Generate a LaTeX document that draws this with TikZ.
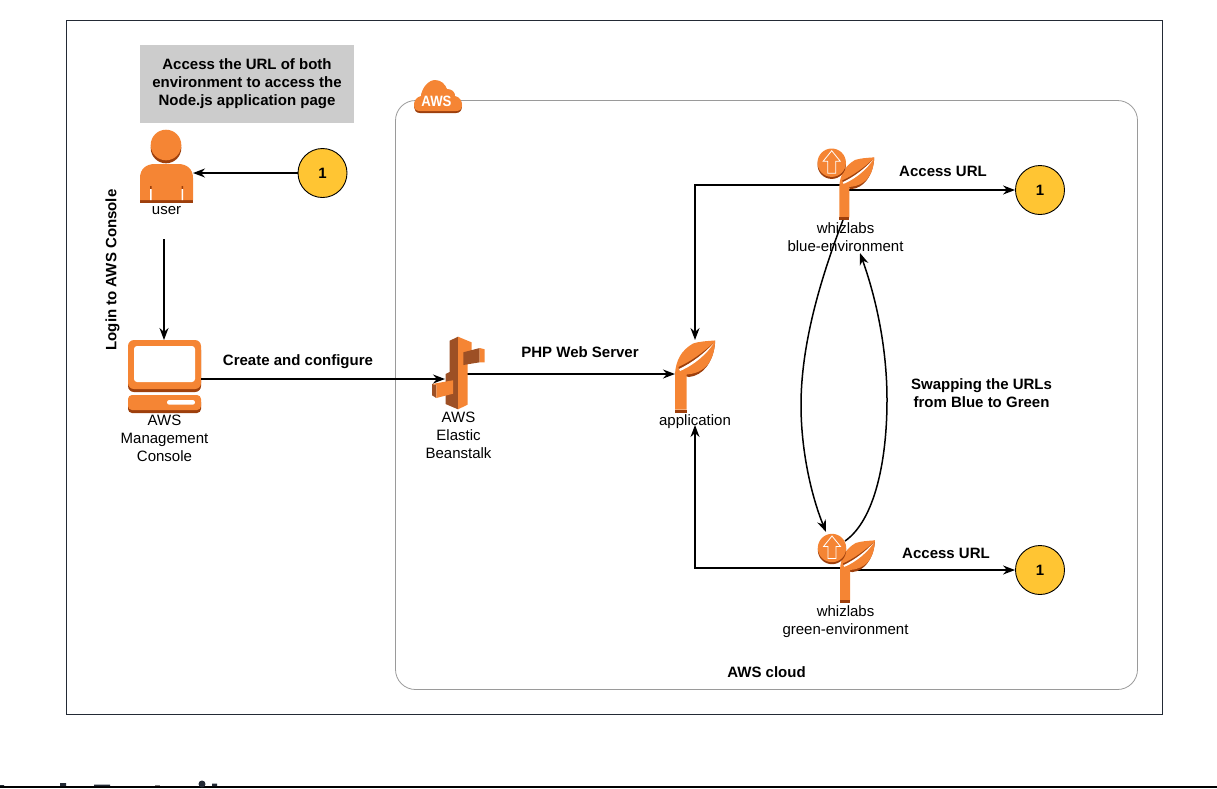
\documentclass[tikz,border=0pt]{standalone}
\usepackage{fontspec}
\setmainfont{Liberation Sans}
\usepackage{xcolor}
\usetikzlibrary{arrows.meta}

\definecolor{awsorange}{HTML}{F58534}
\definecolor{awsdark}{HTML}{9D3F0C}
\definecolor{awsmid}{HTML}{9D5025}
\definecolor{framecol}{HTML}{232A35}
\definecolor{groupcol}{HTML}{9A9A9A}
\definecolor{notecol}{HTML}{CCCCCC}
\definecolor{numcol}{HTML}{FFC533}

\tikzset{
  txt/.style={font=\fontsize{15}{18}\selectfont, align=center, inner sep=0pt},
  boldtxt/.style={txt, font=\fontsize{15}{18}\selectfont\bfseries},
  numnode/.style={draw=black, fill=numcol, circle, line width=0.9pt, minimum size=49pt, inner sep=0pt, font=\fontsize{15}{18}\selectfont\bfseries},
  spot/.style={inner sep=0pt, outer sep=0pt, minimum width=#1},
  conn/.style={line width=1.5pt, -{Stealth[length=12pt,width=9pt]}},
  plant/.pic={
    \fill[awsdark] (14,-35.5) .. controls (28,-37) and (38,-50) .. (40,-69) -- (40,-72) -- (4,-44) -- (11.7,-36) -- cycle;
    \fill[awsorange] (0,-3) -- (0,-39) .. controls (1,-52) and (6,-62) .. (18,-69) .. controls (24,-71) and (32,-71.5) .. (40,-72)
      .. controls (40,-62) and (37,-53) .. (32,-47) .. controls (27,-42) and (22,-39) .. (11.7,-38) -- (11.7,-3) -- cycle;
    \fill[awsdark] (0,-3) rectangle (11.7,0);
    \fill[awsdark] (3.5,-45.5) .. controls (16,-51) and (28,-60) .. (38,-69) .. controls (30,-60) and (18,-50) .. (4,-43.5) -- cycle;
    \fill[white] (4,-43.5) .. controls (18,-50) and (30,-60) .. (38.5,-69) .. controls (32,-59) and (20,-48) .. (5,-41.5) -- cycle;
  },
  badge/.pic={
    \fill[awsdark] (0,2) circle (14.2);
    \fill[awsorange] (0,0) circle (14.2);
    \draw[white, line width=0.8pt, line join=miter] (0,-12) -- (8.5,-1.5) -- (4,-1.5) -- (4,10.5) -- (-4,10.5) -- (-4,-1.5) -- (-8.5,-1.5) -- cycle;
  }
}

\begin{document}
\begin{tikzpicture}[x=1pt,y=-1pt]
\useasboundingbox (0,0) rectangle (1217,788);
% outer frame and cloud group
\node[draw=framecol, line width=0.9pt, minimum width=1096pt, minimum height=694pt, inner sep=0pt] (frame) at (614.5,367.5) {};
\node[draw=groupcol, line width=0.8pt, rounded corners=20pt, minimum width=742pt, minimum height=589pt, inner sep=0pt] (cloudgroup) at (766.5,395) {};

% cut off heading at the lower edge
\draw[black, line width=2.5pt] (0,787) -- (1217,787);
\fill[framecol] (0,785) rectangle (4,786) (60,783) rectangle (66,786) (94,784.5) rectangle (110,786) (212,783.5) rectangle (217,786);
\fill[framecol] (202,784) circle (3.5);
\fill[gray] (155,785) rectangle (160,786);

% note
\node[fill=notecol, minimum width=214pt, minimum height=78pt, boldtxt] (note) at (247,84) {Access the URL of both\\environment to access the\\Node.js application page};

% aws cloud badge
\fill[awsdark] (414,107) .. controls (414,101) and (417,98) .. (421,97) .. controls (422,88) and (429,81) .. (435,81) .. controls (441,81) and (445,85) .. (447,90) .. controls (452,90) and (455,93) .. (455,97) .. controls (460,98) and (462,102) .. (462,106) .. controls (462,110) and (460,113) .. (456,113) -- (420,113) .. controls (416,113) and (414,110) .. (414,107) -- cycle;
\fill[awsorange] (414,105) .. controls (414,100) and (417,97) .. (421,96) .. controls (422,87) and (429,80) .. (435,80) .. controls (441,80) and (445,84) .. (447,89) .. controls (452,89) and (455,92) .. (455,96) .. controls (460,97) and (462,101) .. (462,105) .. controls (462,109) and (460,111) .. (456,111) -- (420,111) .. controls (416,111) and (414,109) .. (414,105) -- cycle;
\node[text=white, inner sep=0pt, font=\fontsize{15}{15}\selectfont\bfseries, xscale=0.88] (awslogo) at (436.5,101) {AWS};

% icon spots
\node[spot=53pt, minimum height=73pt] (user) at (166.5,166.5) {};
\node[spot=74pt, minimum height=73pt] (console) at (164,376.5) {};
\node[spot=53pt, minimum height=71pt] (beanstalk) at (458.5,372.5) {};
\node[spot=40pt, minimum height=72pt] (application) at (695,376) {};
\node[spot=10pt, minimum height=40pt] (blue) at (845,200) {};
\node[spot=10pt, minimum height=40pt] (green) at (845,568) {};

% numbered markers
\node[numnode] (numa) at (322.5,173) {1};
\node[numnode] (numb) at (1040,190) {1};
\node[numnode] (numc) at (1040,570) {1};

% connectors behind the icons
\draw[conn] (blue.center |- 0,185) -| (application.north);
\draw[conn] (green.center) -| (695,425);
\draw[conn] (blue.south |- numb.west) -- (numb.west);
\draw[conn] (green.east |- numc.west) -- (numc.west);
\draw[conn] (beanstalk.center |- 0,374) -- (application.west |- 0,374);
\draw[conn] (843,220) .. controls (820,280) and (801,345) .. (801,405) .. controls (801,450) and (811,495) .. (826,532);
\draw[conn] (845,541) .. controls (875,520) and (887,460) .. (887,400) .. controls (887,345) and (875,295) .. (860,253);

% user icon
\fill[awsdark] (166,148) circle (15.3);
\fill[awsorange] (166,145) circle (15.3);
\fill[awsdark] (140,196) rectangle (193,203);
\fill[awsorange] (140,200) -- (140,178) .. controls (140,169) and (146,164) .. (155,164) -- (178,164) .. controls (187,164) and (193,169) .. (193,178) -- (193,200) -- cycle;
\fill[awsdark] (150,186) rectangle (151.6,189) (181.6,186) rectangle (183.2,189);
\fill[white] (150,189) rectangle (151.6,200) (181.6,189) rectangle (183.2,200);
\node[txt] (userlbl) at (166.5,211) {user};

% console icon
\fill[awsdark, rounded corners=6pt] (128,344) rectangle (201,392);
\fill[awsorange, rounded corners=6pt] (128,340) rectangle (201,389);
\fill[white, rounded corners=3pt] (134,346) rectangle (195,382);
\fill[awsdark, rounded corners=4pt] (128,398) rectangle (201,413);
\fill[awsorange, rounded corners=4pt] (128,395) rectangle (201,410);
\fill[white, rounded corners=2.3pt] (167,400) rectangle (195,404.7);
\node[txt] (consolelbl) at (164.5,438) {AWS\\Management\\Console};

% beanstalk icon
\fill[awsmid] (449.7,340.7) -- (458,336.7) -- (458,409.3) -- (445.5,404) -- (445.5,374) -- (449.7,372) -- cycle;
\fill[awsorange] (458,336.7) -- (471.5,342.3) -- (471.5,352) -- (467.5,352) -- (467.5,404.7) -- (458,409.3) -- cycle;
\fill[awsmid] (463.3,352.3) -- (479.7,348) -- (479.7,362.3) -- (463.3,365) -- cycle;
\fill[awsorange] (479.7,348) -- (484.7,349.3) -- (484.7,362.3) -- (479.7,362.3) -- cycle;
\fill[awsmid] (432,384) -- (436.3,385) -- (436.3,398) -- (432,395.3) -- cycle;
\fill[awsorange] (432,384) -- (453,380.3) -- (453,393.7) -- (436.3,398) -- (436.3,385) -- cycle;
\node[txt] (beanstalklbl) at (458.5,435) {AWS\\Elastic\\Beanstalk};

% application
\pic at (675,412.5) {plant};
\node[txt] (applicationlbl) at (695,421.5) {application};

% blue environment
\pic[scale=0.87] at (839.3,220) {plant};
\pic at (831.7,162.7) {badge};
\node[txt] (bluelbl) at (845.5,237) {whizlabs\\blue-environment};

% green environment
\pic[scale=0.87] at (840,603) {plant};
\pic at (832,548) {badge};
\node[txt] (greenlbl) at (845.5,622) {whizlabs\\green-environment};

% connectors over the icons
\draw[conn] (numa.west) -- (user.east |- numa.west);
\draw[conn] (console.north |- 0,239) -- (console.north);
\draw[conn] (console.east |- 0,379) -- (445,379);

% labels
\node[boldtxt] (createlbl) at (298,361.5) {Create and configure};
\node[boldtxt] (phplbl) at (580,352) {PHP Web Server};
\node[boldtxt] (accessa) at (943,171) {Access URL};
\node[boldtxt] (accessb) at (946,553) {Access URL};
\node[boldtxt] (swaplbl) at (981.5,393) {Swapping the URLs\\from Blue to Green};
\node[boldtxt] (cloudlbl) at (766.5,672) {AWS cloud};
\node[boldtxt, rotate=90] (loginlbl) at (112.5,270) {Login to AWS Console};
\end{tikzpicture}
\end{document}
